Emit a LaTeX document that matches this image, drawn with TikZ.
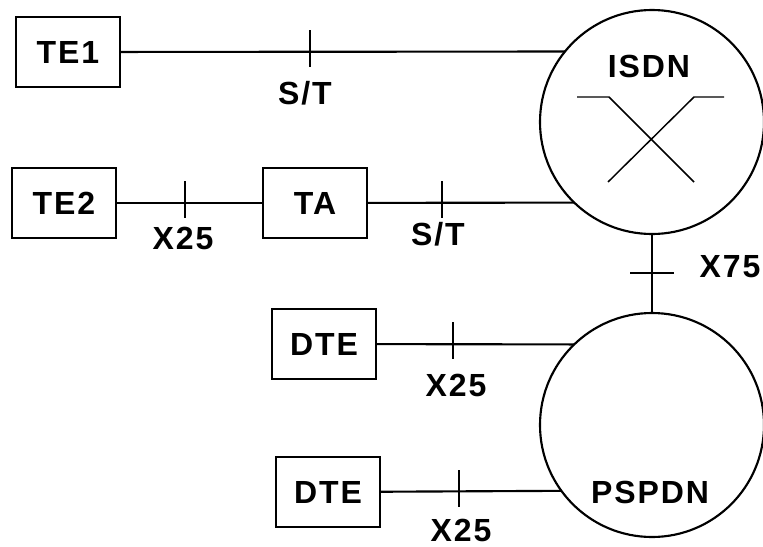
\documentclass[tikz,border=0pt]{standalone}
\usepackage{fontspec}
\newfontfamily\netfont[LetterSpace=6]{Liberation Sans}
\usetikzlibrary{positioning, calc}

\begin{document}
\begin{tikzpicture}[x=0.75pt, y=-0.75pt, line width=1.6pt,
    unit/.style={draw, minimum width=78pt, minimum height=52pt, inner sep=0pt,
        font=\netfont\bfseries\fontsize{24}{28}\selectfont},
    net/.style={draw, circle, minimum size=168pt, inner sep=0pt, outer sep=0pt},
    lbl/.style={inner sep=0pt, font=\netfont\bfseries\fontsize{24}{28}\selectfont}]

    \useasboundingbox (0,0) rectangle (763,546);

    % --- Networks ---
    \node[net] (isdn) at (652,122) {};
    \node[net] (pspdn) at (652,425) {};
    \node[lbl] (isdnlbl) at (649,66) {ISDN};
    \node[lbl] (pspdnlbl) at (650,492) {PSPDN};

    % switch symbol inside ISDN
    \draw[line width=1.1pt] ($(isdn)+(-75,-25)$) -- ($(isdn)+(-43,-25)$) -- ($(isdn)+(42,60)$);
    \draw[line width=1.1pt] ($(isdn)+(72,-25)$) -- ($(isdn)+(42,-25)$) -- ($(isdn)+(-44,60)$);

    % --- Terminals ---
    \node[unit] (te1) at (68,52) {TE1};
    \node[unit] (te2) at (64,203) {TE2};
    \node[unit] (ta) at (315,203) {TA};
    \node[unit] (dte1) at (324,344) {DTE};
    \node[unit] (dte2) at (328,492) {DTE};

    % --- Connections ---
    \draw (te1) -- (isdn.141.3);
    \draw (te2) -- (ta);
    \draw (ta) -- (isdn.226.3);
    \draw (isdn.south) -- (pspdn.north);
    \draw (dte1) -- (pspdn.134.2);
    \draw (dte2) -- (pspdn.216.4);

    % --- Reference points (ticks) ---
    \coordinate (st1) at (310,52);
    \coordinate (x25a) at (185,203);
    \coordinate (st2) at (442,203);
    \coordinate (x75) at (652,273);
    \coordinate (x25b) at (453,344);
    \coordinate (x25c) at (459,492);

    \foreach \t in {st1, x25a, st2, x25b, x25c}
        \draw (\t) ++(0,-22) -- ++(0,37);
    \draw (x75) ++(-22,0) -- ++(44,0);

    % --- Reference point labels ---
    \node[lbl] (st1lbl) at (305,93) {S/T};
    \node[lbl] (x25albl) at (183,238) {X25};
    \node[lbl] (st2lbl) at (438,234) {S/T};
    \node[lbl] (x75lbl) at (730,267) {X75};
    \node[lbl] (x25blbl) at (456,385) {X25};
    \node[lbl] (x25clbl) at (461,530) {X25};

\end{tikzpicture}
\end{document}
